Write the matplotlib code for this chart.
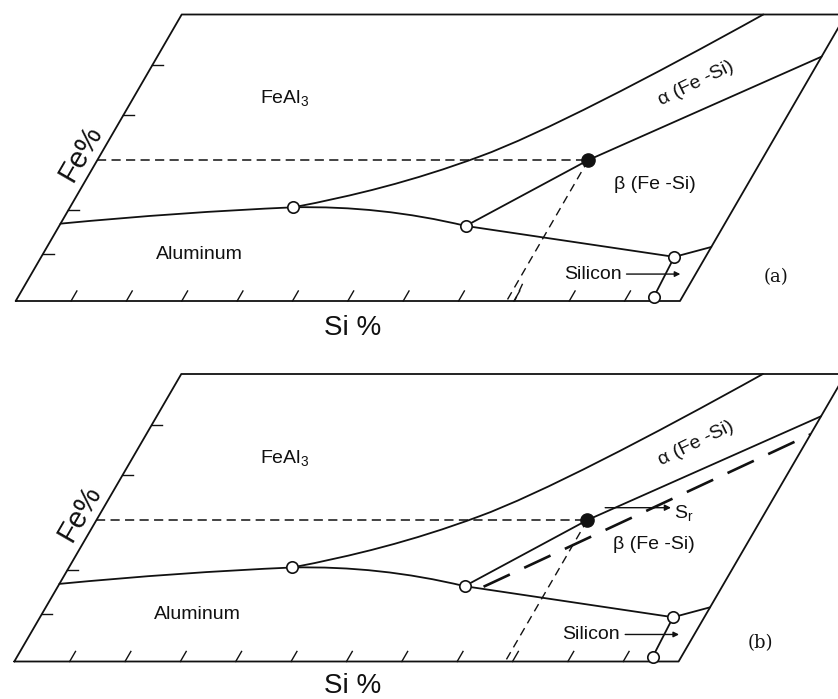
"""Al-Fe-Si liquidus projection sketch: (a) equilibrium, (b) with the shifted beta boundary S_r."""
import matplotlib
matplotlib.use("Agg")
import matplotlib.pyplot as plt
from matplotlib.path import Path
from matplotlib.patches import PathPatch
from matplotlib.transforms import Affine2D

plt.rcParams["font.family"] = ["Liberation Sans", "DejaVu Sans"]
plt.rcParams["mathtext.fontset"] = "custom"
plt.rcParams["mathtext.rm"] = "Liberation Sans"
plt.rcParams["mathtext.it"] = "Liberation Sans"

# diagram coordinates: u = Si fraction along the base, v = Fe fraction up the slanted side
frame_u = [0, 1, 1, 0, 0]
frame_v = [0, 0, 1, 1, 0]
si_ticks = [k / 12 for k in range(1, 12)]
fe_ticks = [0.164, 0.318, 0.648, 0.822]

# curved boundaries as Bezier control polygons (u, v)
al_feal3_ctrl = [(0.0, 0.270), (0.17, 0.310), (0.336, 0.327)]                 # quadratic
feal3_alpha_ctrl = [(0.336, 0.327), (0.416, 0.367), (0.493, 0.4174), (0.573, 0.505),
                    (0.643, 0.580), (0.7615, 0.7834), (0.8755, 1.0)]           # two cubics
al_alpha_ctrl = [(0.336, 0.327), (0.466, 0.3335), (0.612, 0.262)]             # quadratic

# straight boundaries
al_beta_u = [0.612, 0.953, 1.0]
al_beta_v = [0.262, 0.154, 0.1885]
alpha_beta_u = [0.612, 0.739, 1.0]
alpha_beta_v = [0.262, 0.492, 0.853]
si_beta_u = [0.953, 0.957]
si_beta_v = [0.154, 0.015]

open_pts_u = [0.336, 0.612, 0.953, 0.957]
open_pts_v = [0.327, 0.262, 0.154, 0.015]
alloy_u, alloy_v = 0.739, 0.492

# shifted alpha / beta boundary in (b)
shift_u = [0.641, 1.0]
shift_v = [0.260, 0.790]
sr_arrow_u = [0.755, 0.854]
sr_arrow_v = 0.535

panels = [
    dict(ox=15.7, oy=301.0, bx=664.3, sx=166.0, sy=-286.5, tag="(a)",
         tag_uv=(1.124, 0.084), si_v=-0.094),
    dict(ox=14.3, oy=661.5, bx=664.3, sx=167.0, sy=-287.5, tag="(b)",
         tag_uv=(1.107, 0.065), si_v=-0.085),
]

fig = plt.figure(figsize=(8.38, 6.99), dpi=100)
ax = fig.add_axes([0, 0, 1, 1])
ax.set_xlim(0, 838)
ax.set_ylim(699, 0)
ax.axis("off")

INK = "#111111"
LW = 1.3


def bezier(ctrl, tr):
    code = Path.CURVE3 if len(ctrl) == 3 else Path.CURVE4
    path = Path(ctrl, [Path.MOVETO] + [code] * (len(ctrl) - 1))
    ax.add_patch(PathPatch(path, fill=False, ec=INK, lw=LW, transform=tr, capstyle="round"))


def draw_panel(p, shifted):
    tr = Affine2D().from_values(p["bx"], 0, p["sx"], p["sy"], p["ox"], p["oy"]) + ax.transData
    kw = dict(color=INK, lw=LW, transform=tr, solid_capstyle="round")

    ax.plot(frame_u, frame_v, **kw)
    for t in si_ticks:
        ax.plot([t, t], [0, 0.035], color=INK, lw=1.0, transform=tr)
    for t in fe_ticks:
        ax.plot([0, 0.016], [t, t], color=INK, lw=1.0, transform=tr)

    bezier(al_feal3_ctrl, tr)
    bezier(feal3_alpha_ctrl, tr)
    bezier(al_alpha_ctrl, tr)
    ax.plot(al_beta_u, al_beta_v, **kw)
    ax.plot(alpha_beta_u, alpha_beta_v, **kw)
    ax.plot(si_beta_u, si_beta_v, **kw)

    # alloy composition read-off
    ax.plot([0, alloy_u], [alloy_v, alloy_v], color=INK, lw=1.1,
            ls=(0, (6, 3.5)), transform=tr)
    ax.plot([alloy_u, alloy_u], [alloy_v, 0], color=INK, lw=1.0,
            ls=(0, (6, 4)), transform=tr)
    if not shifted:
        ax.plot([0.748, 0.751], [0.06, 0.0], color=INK, lw=1.0,
                ls=(0, (6, 4)), transform=tr)

    if shifted:
        ax.plot(shift_u, shift_v, color=INK, lw=1.9, ls=(0, (11, 6)), transform=tr)
        ax.annotate("", xy=(sr_arrow_u[1], sr_arrow_v), xytext=(sr_arrow_u[0], sr_arrow_v),
                    xycoords=tr, textcoords=tr,
                    arrowprops=dict(arrowstyle="-|>", color=INK, lw=1.0,
                                    mutation_scale=9, shrinkA=0, shrinkB=0))
        ax.text(sr_arrow_u[1] + 0.01, sr_arrow_v - 0.02, r"S$_{\rm r}$", transform=tr,
                fontsize=14, ha="left", va="center", color=INK)

    ax.plot(open_pts_u, open_pts_v, ls="none", marker="o", ms=8.2, mfc="white",
            mec=INK, mew=1.2, transform=tr, zorder=5)
    ax.plot([alloy_u], [alloy_v], ls="none", marker="o", ms=9.5, mfc=INK,
            mec=INK, transform=tr, zorder=5)

    # Silicon pointer
    ax.annotate("", xy=(0.977, 0.094), xytext=(0.896, 0.094), xycoords=tr, textcoords=tr,
                arrowprops=dict(arrowstyle="-|>", color=INK, lw=1.0,
                                mutation_scale=8, shrinkA=0, shrinkB=0))

    txt = dict(transform=tr, color=INK, ha="center", va="center", fontsize=14)
    ax.text(0.228, 0.709, r"FeAl$_3$", **txt)
    ax.text(0.235, 0.164, "Aluminum", **txt)
    ax.text(0.835, 0.760, "α (Fe -Si)", rotation=26, **txt)
    ax.text(0.860, 0.408, "β (Fe -Si)", **txt)
    ax.text(0.845, 0.094, "Silicon", **txt)
    ax.text(-0.032, 0.517, "Fe%", rotation=60, transform=tr, color=INK,
            ha="center", va="center", fontsize=21)
    ax.text(0.5305, p["si_v"], "Si %", transform=tr, color=INK,
            ha="center", va="center", fontsize=20)
    ax.text(*p["tag_uv"], p["tag"], transform=tr, color=INK, ha="center",
            va="center", fontsize=13, family="DejaVu Serif")


draw_panel(panels[0], shifted=False)
draw_panel(panels[1], shifted=True)

fig.savefig("out.png", dpi=100, facecolor="white")
